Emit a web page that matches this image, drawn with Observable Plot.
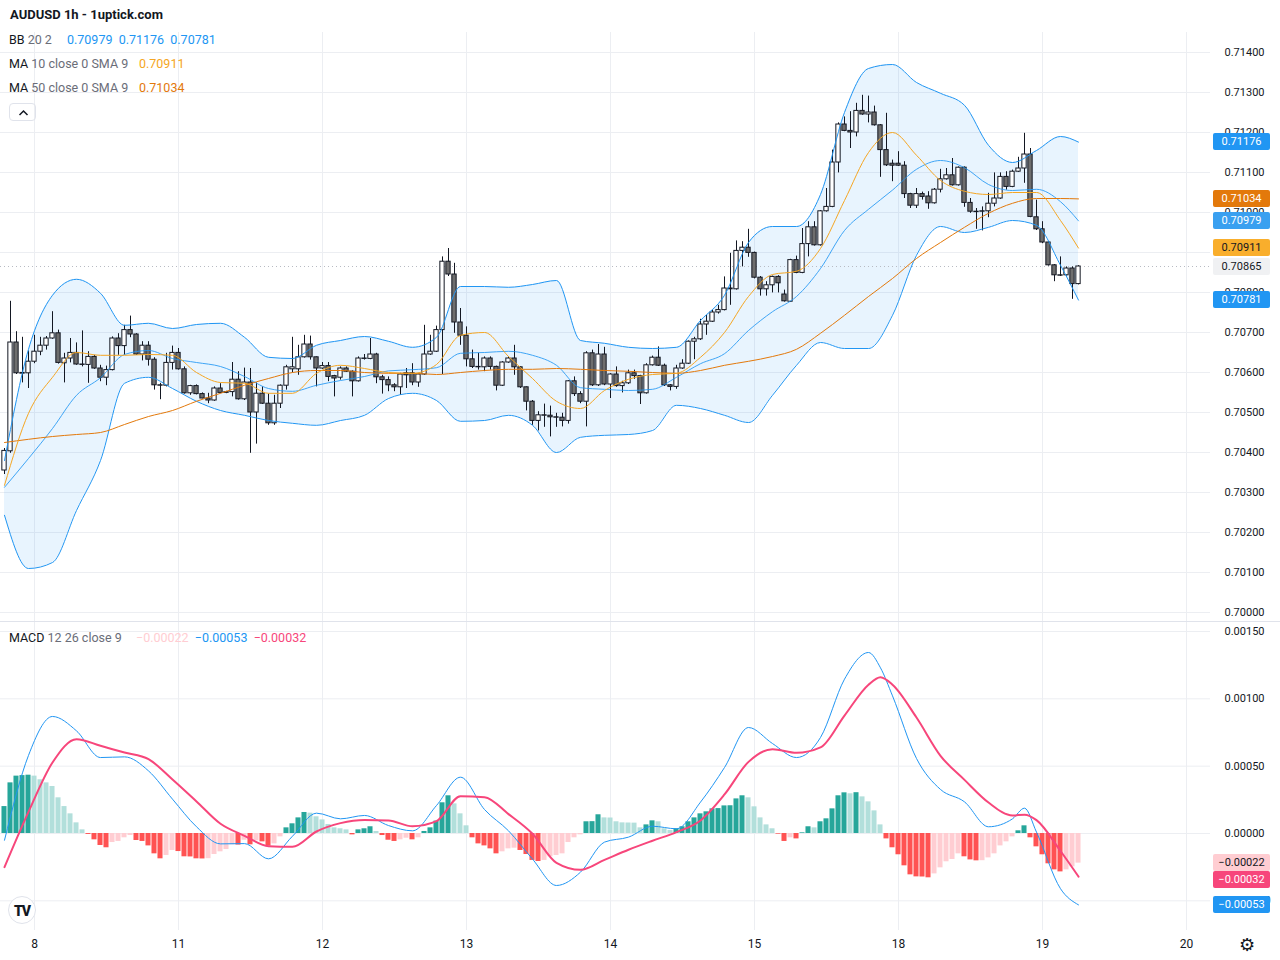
<!DOCTYPE html>
<html>
<head>
<meta charset="utf-8">
<script src="https://cdn.jsdelivr.net/npm/d3@7"></script>
<script src="https://cdn.jsdelivr.net/npm/@observablehq/plot@0.6"></script>
<style>
  html, body { margin:0; padding:0; background:#ffffff; }
  #wrap { position:relative; width:1280px; height:960px; overflow:hidden; font-family: Roboto, "Liberation Sans", sans-serif; color:#131722; }
  #wrap svg { position:absolute; left:0; }
  .abs { position:absolute; white-space:nowrap; }
  .leg { font-size:12.5px; line-height:16px; }
  .gray { color:#6a6d78; }
  .box { position:absolute; left:1213px; width:57px; height:17px; line-height:17px; font-size:11px; text-align:center; border-radius:2px; }
  #wrap svg [aria-label="x-axis tick label"] { font-size:12px; }
</style>
</head>
<body>
<div id="wrap"></div>
<script>
// ---------------- DATA ----------------
// Hourly candles, index 0..179 (AUDUSD 1h)
const open = [0.70355,0.70403,0.70675,0.70597,0.70598,0.70627,0.70652,0.70667,0.70685,0.70698,
 0.70623,0.70635,0.70649,0.70620,0.70619,0.70639,0.70610,0.70587,0.70606,0.70685,
 0.70666,0.70706,0.70695,0.70645,0.70667,0.70632,0.70568,0.70567,0.70624,0.70649,
 0.70608,0.70548,0.70566,0.70546,0.70535,0.70530,0.70560,0.70549,0.70551,0.70582,
 0.70533,0.70575,0.70500,0.70547,0.70522,0.70473,0.70522,0.70567,0.70608,0.70608,
 0.70638,0.70670,0.70638,0.70610,0.70616,0.70591,0.70587,0.70610,0.70602,0.70578,
 0.70635,0.70634,0.70645,0.70588,0.70581,0.70568,0.70563,0.70598,0.70598,0.70575,
 0.70595,0.70645,0.70652,0.70706,0.70877,0.70845,0.70725,0.70692,0.70633,0.70614,
 0.70613,0.70635,0.70614,0.70567,0.70625,0.70635,0.70613,0.70563,0.70527,0.70479,
 0.70493,0.70492,0.70488,0.70487,0.70479,0.70578,0.70546,0.70527,0.70648,0.70568,
 0.70645,0.70570,0.70595,0.70566,0.70573,0.70598,0.70591,0.70548,0.70618,0.70637,
 0.70617,0.70568,0.70564,0.70610,0.70622,0.70677,0.70683,0.70720,0.70727,0.70750,
 0.70756,0.70810,0.70808,0.70904,0.70912,0.70899,0.70837,0.70808,0.70818,0.70839,
 0.70795,0.70777,0.70881,0.70849,0.70921,0.70963,0.70918,0.71003,0.71014,0.71125,
 0.71220,0.71204,0.71200,0.71254,0.71245,0.71250,0.71218,0.71156,0.71122,0.71122,
 0.71117,0.71046,0.71017,0.71046,0.71040,0.71023,0.71057,0.71083,0.71093,0.71068,
 0.71112,0.71024,0.71002,0.71003,0.71003,0.71022,0.71035,0.71089,0.71064,0.71102,
 0.71110,0.71145,0.70988,0.70958,0.70925,0.70868,0.70843,0.70843,0.70860,0.70821];
const high = [0.70410,0.70778,0.70702,0.70688,0.70654,0.70693,0.70688,0.70690,0.70752,0.70706,
 0.70648,0.70685,0.70674,0.70704,0.70652,0.70643,0.70618,0.70616,0.70689,0.70697,
 0.70718,0.70741,0.70697,0.70677,0.70677,0.70637,0.70573,0.70648,0.70666,0.70660,
 0.70614,0.70568,0.70569,0.70549,0.70548,0.70564,0.70572,0.70553,0.70625,0.70602,
 0.70611,0.70610,0.70574,0.70564,0.70546,0.70543,0.70569,0.70618,0.70688,0.70668,
 0.70693,0.70691,0.70639,0.70625,0.70625,0.70593,0.70614,0.70614,0.70604,0.70639,
 0.70645,0.70685,0.70648,0.70593,0.70589,0.70572,0.70598,0.70610,0.70622,0.70598,
 0.70718,0.70693,0.70716,0.70889,0.70910,0.70873,0.70760,0.70714,0.70656,0.70648,
 0.70639,0.70639,0.70616,0.70627,0.70639,0.70668,0.70614,0.70564,0.70530,0.70502,
 0.70521,0.70516,0.70498,0.70498,0.70580,0.70589,0.70552,0.70652,0.70656,0.70670,
 0.70663,0.70597,0.70614,0.70578,0.70606,0.70606,0.70593,0.70622,0.70641,0.70664,
 0.70621,0.70570,0.70618,0.70632,0.70679,0.70688,0.70733,0.70743,0.70756,0.70768,
 0.70839,0.70898,0.70929,0.70927,0.70958,0.70901,0.70840,0.70827,0.70841,0.70842,
 0.70806,0.70883,0.70891,0.70960,0.70977,0.70977,0.71005,0.71060,0.71156,0.71224,
 0.71239,0.71252,0.71273,0.71293,0.71291,0.71266,0.71220,0.71248,0.71131,0.71152,
 0.71127,0.71048,0.71060,0.71051,0.71052,0.71060,0.71108,0.71110,0.71135,0.71114,
 0.71114,0.71035,0.71010,0.71014,0.71048,0.71099,0.71099,0.71102,0.71106,0.71138,
 0.71198,0.71160,0.71031,0.70977,0.70927,0.70870,0.70889,0.70864,0.70864,0.70867];
const low = [0.70345,0.70398,0.70595,0.70574,0.70560,0.70622,0.70642,0.70656,0.70683,0.70621,
 0.70574,0.70624,0.70618,0.70614,0.70573,0.70608,0.70577,0.70567,0.70604,0.70643,
 0.70643,0.70687,0.70643,0.70629,0.70616,0.70556,0.70532,0.70564,0.70606,0.70606,
 0.70546,0.70543,0.70544,0.70534,0.70522,0.70528,0.70547,0.70547,0.70539,0.70531,
 0.70530,0.70398,0.70421,0.70520,0.70468,0.70468,0.70510,0.70556,0.70599,0.70593,
 0.70636,0.70631,0.70564,0.70608,0.70577,0.70539,0.70581,0.70600,0.70539,0.70576,
 0.70631,0.70632,0.70572,0.70546,0.70552,0.70552,0.70543,0.70560,0.70567,0.70563,
 0.70593,0.70643,0.70650,0.70595,0.70840,0.70698,0.70668,0.70614,0.70610,0.70606,
 0.70602,0.70606,0.70554,0.70565,0.70623,0.70593,0.70560,0.70504,0.70468,0.70454,
 0.70463,0.70439,0.70463,0.70464,0.70471,0.70540,0.70522,0.70464,0.70565,0.70565,
 0.70567,0.70535,0.70563,0.70549,0.70570,0.70583,0.70520,0.70546,0.70616,0.70615,
 0.70565,0.70554,0.70558,0.70608,0.70620,0.70632,0.70680,0.70693,0.70725,0.70746,
 0.70754,0.70768,0.70806,0.70864,0.70888,0.70834,0.70791,0.70791,0.70799,0.70799,
 0.70776,0.70775,0.70847,0.70847,0.70889,0.70916,0.70916,0.71001,0.71012,0.71099,
 0.71202,0.71160,0.71189,0.71243,0.71224,0.71216,0.71088,0.71115,0.71077,0.71115,
 0.71035,0.71010,0.71010,0.71031,0.71008,0.71021,0.71049,0.71081,0.71066,0.71066,
 0.71013,0.70998,0.70958,0.70954,0.70987,0.71014,0.71033,0.71056,0.71062,0.71100,
 0.71073,0.70987,0.70955,0.70922,0.70866,0.70827,0.70840,0.70841,0.70783,0.70819];
const close = [0.70404,0.70675,0.70598,0.70599,0.70627,0.70652,0.70667,0.70685,0.70698,0.70624,
 0.70635,0.70649,0.70620,0.70619,0.70639,0.70610,0.70587,0.70606,0.70685,0.70666,
 0.70706,0.70695,0.70645,0.70667,0.70632,0.70568,0.70567,0.70624,0.70649,0.70608,
 0.70548,0.70566,0.70546,0.70535,0.70530,0.70560,0.70549,0.70551,0.70582,0.70533,
 0.70575,0.70500,0.70547,0.70522,0.70473,0.70522,0.70567,0.70613,0.70613,0.70638,
 0.70670,0.70638,0.70610,0.70616,0.70589,0.70585,0.70610,0.70602,0.70578,0.70635,
 0.70634,0.70645,0.70588,0.70581,0.70568,0.70563,0.70595,0.70593,0.70575,0.70595,
 0.70645,0.70652,0.70706,0.70877,0.70845,0.70725,0.70692,0.70633,0.70614,0.70613,
 0.70635,0.70614,0.70567,0.70625,0.70635,0.70613,0.70563,0.70527,0.70479,0.70493,
 0.70492,0.70488,0.70487,0.70479,0.70578,0.70546,0.70527,0.70648,0.70568,0.70645,
 0.70570,0.70595,0.70566,0.70573,0.70598,0.70591,0.70548,0.70618,0.70637,0.70617,
 0.70568,0.70564,0.70610,0.70622,0.70677,0.70683,0.70720,0.70727,0.70750,0.70756,
 0.70810,0.70808,0.70904,0.70912,0.70899,0.70837,0.70808,0.70818,0.70839,0.70823,
 0.70778,0.70881,0.70849,0.70921,0.70963,0.70918,0.71003,0.71014,0.71125,0.71220,
 0.71204,0.71200,0.71254,0.71245,0.71250,0.71218,0.71156,0.71118,0.71117,0.71117,
 0.71046,0.71017,0.71046,0.71039,0.71023,0.71057,0.71083,0.71093,0.71068,0.71112,
 0.71024,0.71002,0.71001,0.71002,0.71022,0.71035,0.71089,0.71064,0.71102,0.71110,
 0.71145,0.70989,0.70958,0.70925,0.70868,0.70843,0.70842,0.70860,0.70821,0.70865];

// Indicator lines, read every 4th bar (candle index in lineIdx)
const lineIdx = [0,4,8,12,16,20,24,28,32,36,40,44,48,52,56,60,64,68,72,76,80,84,88,92,96,100,104,108,112,116,120,124,128,132,136,140,144,148,152,156,160,164,168,172,176,179];
const bbUpper = [0.70380,0.70658,0.70793,0.70833,0.70798,0.70718,0.70723,0.70710,0.70720,0.70723,
 0.70688,0.70638,0.70635,0.70668,0.70680,0.70690,0.70678,0.70663,0.70688,0.70815,
 0.70815,0.70813,0.70820,0.70830,0.70680,0.70673,0.70663,0.70660,0.70663,0.70730,
 0.70793,0.70925,0.70965,0.70965,0.71045,0.71250,0.71360,0.71370,0.71325,0.71298,
 0.71268,0.71168,0.71125,0.71155,0.71190,0.71176];
const bbBasis = [0.70313,0.70385,0.70460,0.70543,0.70587,0.70645,0.70655,0.70635,0.70625,0.70615,
 0.70590,0.70560,0.70553,0.70568,0.70580,0.70590,0.70604,0.70607,0.70612,0.70648,
 0.70650,0.70653,0.70643,0.70618,0.70562,0.70558,0.70555,0.70558,0.70588,0.70622,
 0.70647,0.70705,0.70752,0.70790,0.70860,0.70955,0.71008,0.71056,0.71108,0.71130,
 0.71112,0.71070,0.71055,0.71058,0.71027,0.70979];
const bbLower = [0.70243,0.70110,0.70125,0.70255,0.70380,0.70573,0.70588,0.70560,0.70528,0.70505,
 0.70493,0.70480,0.70473,0.70468,0.70480,0.70493,0.70535,0.70548,0.70530,0.70478,
 0.70480,0.70493,0.70468,0.70400,0.70438,0.70443,0.70445,0.70455,0.70518,0.70510,
 0.70493,0.70475,0.70543,0.70618,0.70675,0.70660,0.70660,0.70743,0.70893,0.70965,
 0.70950,0.70963,0.70980,0.70968,0.70868,0.70781];
const ma10 = [0.70318,0.70498,0.70588,0.70650,0.70643,0.70643,0.70645,0.70643,0.70600,0.70575,
 0.70573,0.70548,0.70548,0.70598,0.70618,0.70610,0.70600,0.70598,0.70620,0.70693,
 0.70700,0.70640,0.70585,0.70528,0.70510,0.70555,0.70583,0.70595,0.70598,0.70638,
 0.70700,0.70790,0.70845,0.70853,0.70910,0.71030,0.71150,0.71200,0.71143,0.71080,
 0.71053,0.71045,0.71050,0.71050,0.70980,0.70911];
const ma50 = [0.70425,0.70433,0.70440,0.70445,0.70450,0.70470,0.70490,0.70505,0.70528,0.70548,
 0.70568,0.70585,0.70600,0.70605,0.70605,0.70600,0.70598,0.70598,0.70595,0.70600,
 0.70605,0.70608,0.70608,0.70610,0.70608,0.70605,0.70603,0.70600,0.70598,0.70605,
 0.70618,0.70628,0.70640,0.70658,0.70698,0.70743,0.70790,0.70835,0.70885,0.70925,
 0.70963,0.70998,0.71023,0.71035,0.71035,0.71034];

// MACD 12 26 9
const macdIdx = [0,4,8,12,16,20,24,28,32,36,40,44,48,52,56,60,64,68,72,76,80,84,88,92,96,100,104,108,112,116,120,124,128,132,136,140,144,146,148,152,156,160,164,168,170,172,176,179];
const macdLine = [-0.000050,0.000580,0.000869,0.000762,0.000564,0.000569,0.000465,0.000255,0.000050,-0.000077,
 -0.000075,-0.000188,-0.000020,0.000151,0.000109,0.000134,0.000059,0.000020,0.000208,0.000418,
 0.000178,0.000020,-0.000190,-0.000386,-0.000287,-0.000064,-0.000027,0.000054,0.000035,0.000233,
 0.000490,0.000787,0.000668,0.000564,0.000713,0.001146,0.001344,0.001230,0.001022,0.000557,0.000327,
 0.000235,0.000050,0.000109,0.000188,0.000010,-0.000410,-0.000530];
const signalLine = [-0.000250,0.000160,0.000527,0.000700,0.000651,0.000601,0.000552,0.000401,0.000238,0.000072,
 -0.000017,-0.000094,-0.000099,0.000015,0.000077,0.000101,0.000097,0.000054,0.000092,0.000277,
 0.000270,0.000144,-0.000002,-0.000218,-0.000270,-0.000196,-0.000121,-0.000054,0.000010,0.000097,
 0.000290,0.000532,0.000626,0.000599,0.000639,0.000876,0.001105,0.001160,0.001105,0.000861,0.000577,
 0.000398,0.000230,0.000134,0.000139,0.000099,-0.000130,-0.000320];
const histogram = [0.000200,0.000376,0.000426,0.000430,0.000433,0.000426,0.000399,0.000376,0.000349,0.000265,
 0.000200,0.000146,0.000079,0.000027,-0.000007,-0.000047,-0.000089,-0.000106,-0.000067,-0.000059,
 -0.000032,-0.000015,-0.000052,-0.000059,-0.000092,-0.000151,-0.000188,-0.000163,-0.000126,-0.000134,
 -0.000173,-0.000174,-0.000188,-0.000189,-0.000187,-0.000156,-0.000136,-0.000119,-0.000084,-0.000086,
 -0.000050,-0.000084,-0.000054,-0.000062,-0.000094,-0.000077,-0.000025,0.000042,0.000072,0.000116,
 0.000156,0.000151,0.000124,0.000101,0.000067,0.000042,0.000035,0.000027,-0.000010,0.000027,
 0.000035,0.000050,0.000015,-0.000015,-0.000050,-0.000059,-0.000047,-0.000035,-0.000047,-0.000032,
 0.000015,0.000042,0.000092,0.000228,0.000280,0.000220,0.000146,0.000057,-0.000032,-0.000077,
 -0.000092,-0.000114,-0.000151,-0.000136,-0.000114,-0.000109,-0.000126,-0.000156,-0.000200,-0.000208,
 -0.000200,-0.000173,-0.000163,-0.000151,-0.000067,-0.000032,-0.000010,0.000087,0.000088,0.000139,
 0.000116,0.000115,0.000087,0.000079,0.000078,0.000077,0.000042,0.000064,0.000094,0.000087,
 0.000035,0.000022,0.000035,0.000050,0.000087,0.000116,0.000146,0.000161,0.000183,0.000185,
 0.000205,0.000206,0.000257,0.000280,0.000265,0.000198,0.000116,0.000064,0.000035,-0.000005,
 -0.000059,-0.000032,-0.000040,0.000005,0.000050,0.000042,0.000087,0.000109,0.000183,0.000280,
 0.000302,0.000295,0.000303,0.000272,0.000235,0.000168,0.000064,-0.000040,-0.000106,-0.000158,
 -0.000240,-0.000307,-0.000322,-0.000323,-0.000329,-0.000300,-0.000255,-0.000210,-0.000193,-0.000151,
 -0.000173,-0.000196,-0.000203,-0.000202,-0.000181,-0.000151,-0.000092,-0.000062,-0.000025,0.000020,
 0.000057,-0.000032,-0.000099,-0.000158,-0.000225,-0.000270,-0.000285,-0.000270,-0.000248,-0.000220];

// Axis ticks
const priceTicks = [0.700,0.701,0.702,0.703,0.704,0.705,0.706,0.707,0.708,0.709,0.710,0.711,0.712,0.713,0.714];
const macdTicks = [-0.0005,0,0.0005,0.0010,0.0015];
const dayTicks = [5,29,53,77,101,125,149,173,197];
const dayLabels = ["8","11","12","13","14","15","18","19","20"];

// ---------------- CHART ----------------
const wrap = document.getElementById("wrap");
const fmt = d3.format(".5f");
const GRID = "#eceef2";
const BLUE = "#2196F3", MA10C = "#F5A623", MA50C = "#E3790B", SIGC = "#F7467B";
const curve = "monotone-x";
const X_DOMAIN = [-4/6, 1206/6];

const candles = open.map((o, i) => ({i, o, h: high[i], l: low[i], c: close[i]}));
const bands = lineIdx.map((i, k) => ({i, upper: bbUpper[k], basis: bbBasis[k], lower: bbLower[k], ma10: ma10[k], ma50: ma50[k]}));
const macdRows = macdIdx.map((i, k) => ({i, macd: macdLine[k], signal: signalLine[k]}));
const histRows = histogram.map((h, i) => {
  const prev = i > 0 ? histogram[i - 1] : h;
  const color = h >= 0 ? (h >= prev ? "#26A69A" : "#B2DFDB") : (h < prev ? "#FF5252" : "#FFCDD2");
  return {i, h, color};
});
const lastClose = close[close.length - 1];

const mainPlot = Plot.plot({
  width: 1280, height: 590,
  marginTop: 0, marginBottom: 0, marginLeft: 0, marginRight: 70,
  x: {domain: X_DOMAIN, axis: null},
  y: {domain: [0.7153 - 622/40000, 0.7153 - 32/40000], axis: "right", ticks: priceTicks, tickFormat: fmt, tickSize: 0, tickPadding: 14, label: null},
  color: {type: "identity"},
  style: {fontFamily: "Roboto, sans-serif", fontSize: "11px", color: "#131722", background: "transparent"},
  marks: [
    Plot.ruleX(dayTicks, {stroke: GRID}),
    Plot.ruleY(priceTicks, {stroke: GRID}),
    Plot.areaY(bands, {x: "i", y1: "lower", y2: "upper", fill: BLUE, fillOpacity: 0.1, curve}),
    Plot.ruleY([lastClose], {stroke: "#b8bbc3", strokeDasharray: "1,3"}),
    Plot.ruleX(candles, {x: "i", y1: "l", y2: "h", stroke: "#131722", strokeWidth: 1}),
    Plot.rect(candles, {
      x1: d => d.i - 0.36, x2: d => d.i + 0.36,
      y1: d => Math.min(d.o, d.c), y2: d => Math.max(d.o, d.c),
      fill: d => d.c >= d.o ? "#ffffff" : "#6e6e6e", stroke: "#131722", strokeWidth: 1
    }),
    Plot.lineY(bands, {x: "i", y: "lower", stroke: BLUE, strokeWidth: 1, curve}),
    Plot.lineY(bands, {x: "i", y: "upper", stroke: BLUE, strokeWidth: 1, curve}),
    Plot.lineY(bands, {x: "i", y: "basis", stroke: BLUE, strokeWidth: 1, strokeOpacity: 0.85, curve}),
    Plot.lineY(bands, {x: "i", y: "ma50", stroke: MA50C, strokeWidth: 1, curve}),
    Plot.lineY(bands, {x: "i", y: "ma10", stroke: MA10C, strokeWidth: 1, curve})
  ]
});
mainPlot.style.top = "32px";
wrap.appendChild(mainPlot);

const macdPlot = Plot.plot({
  width: 1280, height: 338,
  marginTop: 0, marginBottom: 30, marginLeft: 0, marginRight: 70,
  x: {domain: X_DOMAIN, ticks: dayTicks, tickFormat: d => dayLabels[dayTicks.indexOf(d)], tickSize: 0, tickPadding: 9, label: null},
  y: {domain: [-(930 - 833)/134670, (833 - 622)/134670], axis: "right", ticks: macdTicks, tickFormat: fmt, tickSize: 0, tickPadding: 14, label: null},
  color: {type: "identity"},
  style: {fontFamily: "Roboto, sans-serif", fontSize: "11px", color: "#131722", background: "transparent"},
  marks: [
    Plot.ruleX(dayTicks, {stroke: GRID}),
    Plot.ruleY(macdTicks, {stroke: GRID}),
    Plot.rect(histRows, {x1: d => d.i - 0.42, x2: d => d.i + 0.42, y1: () => 0, y2: "h", fill: "color"}),
    Plot.lineY(macdRows, {x: "i", y: "macd", stroke: BLUE, strokeWidth: 1, curve}),
    Plot.lineY(macdRows, {x: "i", y: "signal", stroke: SIGC, strokeWidth: 2, curve})
  ]
});
macdPlot.style.top = "622px";
wrap.appendChild(macdPlot);

// pane separator
const sep = document.createElement("div");
sep.className = "abs";
sep.style.cssText = "left:0;top:621px;width:1280px;height:1px;background:#e0e3eb;";
wrap.appendChild(sep);

// ---------- legends ----------
function addDiv(html, css, cls) {
  const d = document.createElement("div");
  d.className = "abs " + (cls || "");
  d.style.cssText = css;
  d.innerHTML = html;
  wrap.appendChild(d);
  return d;
}
const last = a => a[a.length - 1];
const minus = s => s.replace("-", "\u2212");
addDiv("AUDUSD 1h - 1uptick.com", "left:10px;top:7px;font-size:13px;font-weight:bold;line-height:16px;");
addDiv('BB <span class="gray">20 2</span>', "left:9px;top:32px;", "leg");
addDiv(`<span style="color:${BLUE}">${fmt(last(bbBasis))}&nbsp; ${fmt(last(bbUpper))}&nbsp; ${fmt(last(bbLower))}</span>`, "left:67px;top:32px;", "leg");
addDiv('MA <span class="gray">10 close 0 SMA 9</span>', "left:9px;top:56px;", "leg");
addDiv(`<span style="color:${MA10C}">${fmt(last(ma10))}</span>`, "left:139px;top:56px;", "leg");
addDiv('MA <span class="gray">50 close 0 SMA 9</span>', "left:9px;top:80px;", "leg");
addDiv(`<span style="color:${MA50C}">${fmt(last(ma50))}</span>`, "left:139px;top:80px;", "leg");
addDiv('<svg width="27" height="18"><polyline points="9.5,11 13.5,7 17.5,11" fill="none" stroke="#131722" stroke-width="1.5"/></svg>',
  "left:9px;top:103px;width:27px;height:18px;border:1px solid #e0e3eb;border-radius:4px;box-sizing:border-box;line-height:0;");
addDiv('MACD <span class="gray">12 26 close 9</span>', "left:9px;top:630px;", "leg");
addDiv(`<span style="color:#FFCDD2">${minus(fmt(last(histogram)))}</span>&nbsp; <span style="color:${BLUE}">${minus(fmt(last(macdLine)))}</span>&nbsp; <span style="color:${SIGC}">${minus(fmt(last(signalLine)))}</span>`,
  "left:136px;top:630px;", "leg");

// TradingView logo and settings icon
addDiv('<span style="font-weight:900;font-size:14px;letter-spacing:-1px;">TV</span>',
  "left:8px;top:896px;width:28px;height:28px;border-radius:50%;border:1px solid #e0e3eb;background:#fff;text-align:center;line-height:28px;box-sizing:border-box;");
addDiv("\u2699", "left:1239px;top:935px;font-size:18px;font-family:'DejaVu Sans';color:#131722;line-height:20px;");

// ---------- price-scale value labels ----------
function scaleFn(plot) {
  const s = plot.scale("y");
  return s.apply ? v => s.apply(v) : d3.scaleLinear(s.domain, s.range);
}
function addLabels(plot, top, items) {
  const f = scaleFn(plot);
  const rows = items.map(it => ({...it, y: top + f(it.v)})).sort((a, b) => a.y - b.y);
  for (let k = 1; k < rows.length; k++) if (rows[k].y < rows[k - 1].y + 17) rows[k].y = rows[k - 1].y + 17;
  rows.forEach(r => {
    const d = document.createElement("div");
    d.className = "box";
    d.style.top = (r.y - 8.5) + "px";
    d.style.background = r.bg;
    d.style.color = r.fg;
    d.textContent = minus(fmt(r.v));
    wrap.appendChild(d);
  });
}
addLabels(mainPlot, 32, [
  {v: last(bbUpper), bg: BLUE, fg: "#ffffff"},
  {v: last(ma50), bg: MA50C, fg: "#ffffff"},
  {v: last(bbBasis), bg: "#3aa0f0", fg: "#ffffff"},
  {v: last(ma10), bg: "#F9AE2C", fg: "#131722"},
  {v: lastClose, bg: "#f0f1f3", fg: "#131722"},
  {v: last(bbLower), bg: BLUE, fg: "#ffffff"}
]);
addLabels(macdPlot, 622, [
  {v: last(histogram), bg: "#FFCDD2", fg: "#131722"},
  {v: last(signalLine), bg: SIGC, fg: "#ffffff"},
  {v: last(macdLine), bg: BLUE, fg: "#ffffff"}
]);
</script>
</body>
</html>
